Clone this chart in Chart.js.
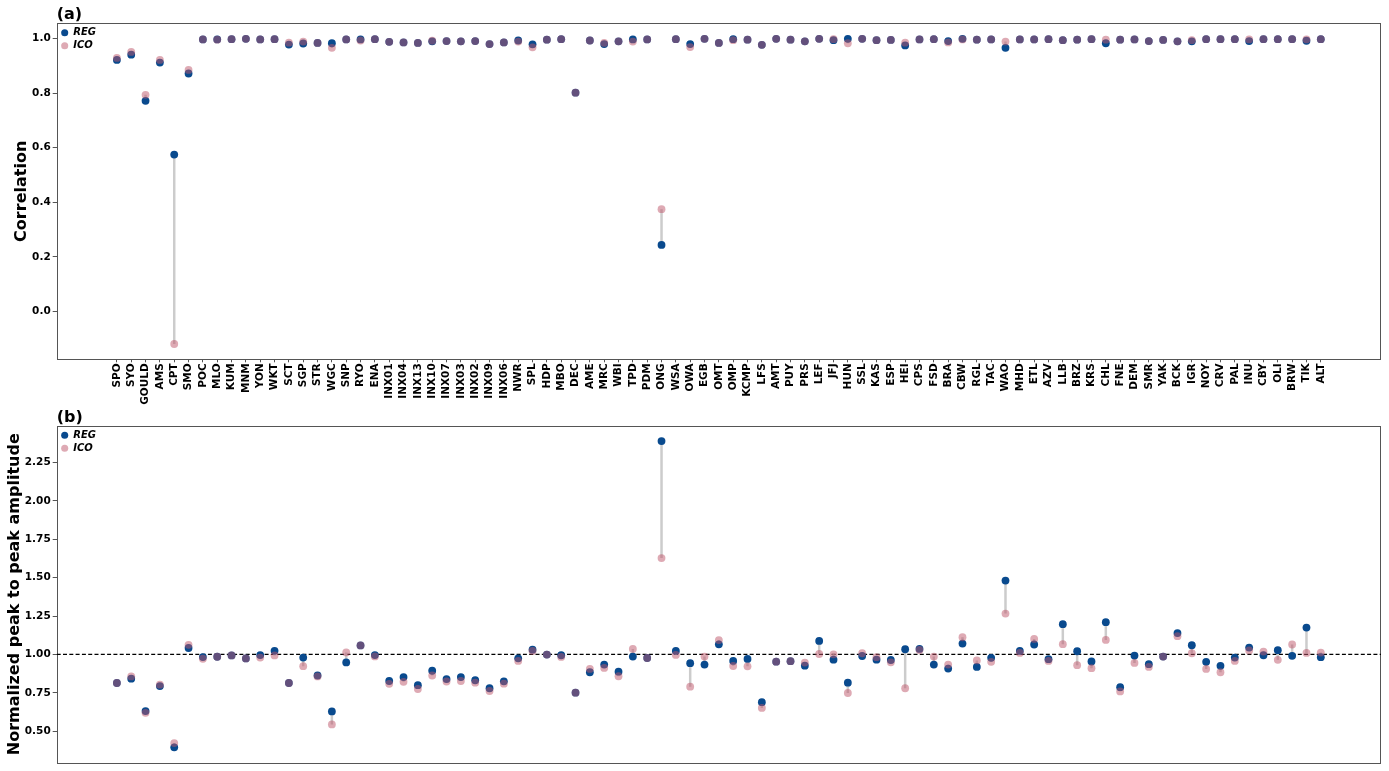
<!DOCTYPE html>
<html>
<head>
<meta charset="utf-8">
<title>Station correlation and normalized amplitude</title>
<script src="https://cdn.jsdelivr.net/npm/chart.js@4.4.1/dist/chart.umd.min.js"></script>
<style>
  html, body { margin: 0; padding: 0; background: #ffffff; }
  #wrap { position: relative; width: 1389px; height: 771px; overflow: hidden; }
  canvas { position: absolute; left: 0; }
  #panelA { top: 0; }
  #panelB { top: 400px; }
</style>
</head>
<body>
<div id="wrap">
  <canvas id="panelA" width="1389" height="410"></canvas>
  <canvas id="panelB" width="1389" height="371"></canvas>
</div>
<script>
// Station codes along the x axis
const stations = ['SPO','SYO','GOULD','AMS','CPT','SMO','POC','MLO','KUM','MNM','YON','WKT','SCT','SGP','STR','WGC','SNP','RYO','ENA','INX01','INX04','INX13','INX10','INX07','INX03','INX02','INX09','INX06','NWR','SPL','HDP','MBO','DEC','AME','MRC','WBI','TPD','PDM','ONG','WSA','OWA','EGB','OMT','OMP','KCMP','LFS','AMT','PUY','PRS','LEF','JFJ','HUN','SSL','KAS','ESP','HEI','CPS','FSD','BRA','CBW','RGL','TAC','WAO','MHD','ETL','AZV','LLB','BRZ','KRS','CHL','FNE','DEM','SMR','YAK','BCK','IGR','NOY','CRV','PAL','INU','CBY','OLI','BRW','TIK','ALT'];

// (a) correlation with observations
const corrREG = [0.922,0.941,0.772,0.912,0.575,0.872,0.997,0.997,0.998,0.999,0.997,0.998,0.978,0.982,0.984,0.983,0.997,0.997,0.998,0.988,0.986,0.984,0.990,0.991,0.990,0.991,0.980,0.986,0.993,0.979,0.996,0.998,0.802,0.993,0.980,0.990,0.997,0.997,0.244,0.998,0.980,0.999,0.984,0.998,0.996,0.977,0.999,0.996,0.990,0.999,0.994,0.999,0.999,0.994,0.995,0.975,0.997,0.998,0.991,0.999,0.996,0.997,0.966,0.997,0.997,0.998,0.994,0.996,0.998,0.983,0.996,0.997,0.991,0.995,0.990,0.990,0.998,0.998,0.998,0.991,0.998,0.998,0.998,0.992,0.998];
const corrICO = [0.929,0.951,0.794,0.922,-0.119,0.885,0.997,0.996,0.998,0.999,0.997,0.998,0.985,0.989,0.984,0.966,0.997,0.993,0.998,0.988,0.986,0.984,0.992,0.991,0.990,0.991,0.980,0.986,0.989,0.968,0.996,0.998,0.802,0.993,0.984,0.990,0.989,0.997,0.375,0.998,0.969,0.999,0.984,0.994,0.996,0.977,0.999,0.996,0.990,0.999,0.998,0.983,0.999,0.994,0.995,0.985,0.997,0.998,0.986,0.997,0.996,0.997,0.989,0.997,0.997,0.998,0.994,0.996,0.998,0.996,0.996,0.997,0.991,0.995,0.990,0.994,0.998,0.998,0.998,0.997,0.998,0.998,0.998,0.997,0.998];

// (b) normalized peak-to-peak amplitude
const ampREG = [0.814,0.842,0.631,0.794,0.395,1.042,0.983,0.985,0.994,0.974,0.996,1.024,0.814,0.980,0.863,0.629,0.948,1.059,0.996,0.827,0.853,0.800,0.894,0.840,0.853,0.832,0.780,0.825,0.975,1.031,0.999,0.995,0.751,0.884,0.934,0.888,0.986,0.977,2.390,1.023,0.943,0.934,1.066,0.958,0.971,0.689,0.953,0.956,0.927,1.088,0.966,0.816,0.990,0.966,0.964,1.034,1.036,0.934,0.908,1.071,0.919,0.978,1.481,1.023,1.065,0.969,1.197,1.021,0.954,1.210,0.787,0.993,0.937,0.986,1.139,1.060,0.952,0.926,0.980,1.045,0.995,1.028,0.991,1.175,0.982];
const ampICO = [0.814,0.857,0.620,0.803,0.423,1.063,0.972,0.985,0.994,0.974,0.980,0.994,0.814,0.924,0.857,0.544,1.013,1.059,0.987,0.809,0.822,0.775,0.863,0.824,0.827,0.816,0.762,0.810,0.958,1.023,0.999,0.984,0.751,0.906,0.912,0.858,1.036,0.977,1.628,0.997,0.790,0.986,1.094,0.925,0.923,0.652,0.953,0.956,0.947,1.003,1.001,0.749,1.008,0.982,0.949,0.780,1.029,0.986,0.934,1.112,0.961,0.952,1.266,1.010,1.101,0.958,1.067,0.930,0.911,1.095,0.759,0.945,0.919,0.986,1.119,1.008,0.906,0.884,0.958,1.026,1.019,0.965,1.065,1.010,1.012];

// Axis ticks and limits
const corrTicks = [0.0, 0.2, 0.4, 0.6, 0.8, 1.0];
const ampTicks = [0.50, 0.75, 1.00, 1.25, 1.50, 1.75, 2.00, 2.25];
const xLimits = [-4.2, 88.2];
const corrLimits = [-0.175, 1.056];
const ampLimits = [0.295, 2.49];
const ampReference = 1.0;

const FONT = 'DejaVu Sans';
const REG_COLOR = 'rgb(9,74,142)';
const ICO_COLOR = 'rgba(189,85,105,0.5)';
const LINK_COLOR = '#cccccc';
const AXIS_COLOR = '#555555';

// Panel tag "(a)" / "(b)" above the top-left corner, the plot frame,
// and the legend pinned inside the upper-left corner of the plot area
const panelDecor = {
  id: 'panelDecor',
  afterLayout(chart) {
    const lg = chart.legend;
    if (!lg) return;
    const a = chart.chartArea;
    lg.left = a.left + 1.5;
    lg.right = a.right;
    lg.top = a.top + 1.5;
    lg.bottom = a.bottom;
  },
  beforeDatasetsDraw(chart) {
    const {ctx, chartArea: a} = chart;
    ctx.save();
    ctx.strokeStyle = AXIS_COLOR;
    ctx.lineWidth = 1;
    ctx.strokeRect(Math.round(a.left) + 0.5, Math.round(a.top) + 0.5,
                   Math.round(a.right - a.left) - 1, Math.round(a.bottom - a.top));
    ctx.restore();
  },
  afterDraw(chart, args, opts) {
    const {ctx, chartArea: a} = chart;
    ctx.save();
    ctx.fillStyle = '#000';
    ctx.font = 'bold 16px "' + FONT + '"';
    ctx.textAlign = 'left';
    ctx.textBaseline = 'alphabetic';
    ctx.fillText(opts.text, a.left, a.top - 4);
    ctx.restore();
  }
};

function linkData(a, b) {
  const out = [];
  for (let i = 0; i < stations.length; i++) {
    out.push({x: i, y: a[i]}, {x: i, y: b[i]}, {x: i, y: null});
  }
  return out;
}
function pts(v) { return v.map((y, i) => ({x: i, y})); }

function buildPanel(canvasId, tag, title, titlePad, regVals, icoVals, yTicks, yLim, decimals, showLabels, padTop, xHeight, refLevel) {
  const datasets = [
    { type: 'line', label: '', data: linkData(regVals, icoVals), borderColor: LINK_COLOR,
      borderWidth: 2.5, pointRadius: 0, spanGaps: false, order: 2 },
    { type: 'scatter', label: 'REG', data: pts(regVals), backgroundColor: REG_COLOR,
      pointBackgroundColor: REG_COLOR, pointRadius: 3.9, pointBorderWidth: 0, pointStyle: 'circle', order: 1 },
    { type: 'scatter', label: 'ICO', data: pts(icoVals), backgroundColor: ICO_COLOR,
      pointBackgroundColor: ICO_COLOR, pointRadius: 3.9, pointBorderWidth: 0, pointStyle: 'circle', order: 0 }
  ];
  if (refLevel !== null) {
    datasets.push({ type: 'line', label: '', data: [{x: xLimits[0], y: refLevel}, {x: xLimits[1], y: refLevel}],
      borderColor: '#000', borderWidth: 1.2, borderDash: [4, 2.3], pointRadius: 0, order: 3 });
  }
  return new Chart(document.getElementById(canvasId), {
    type: 'scatter',
    data: { datasets },
    options: {
      responsive: false,
      animation: false,
      events: [],
      layout: { padding: { top: padTop, right: 8, bottom: 0, left: 0 } },
      plugins: {
        tooltip: { enabled: false },
        panelDecor: { text: tag },
        legend: {
          position: 'chartArea',
          align: 'start',
          labels: {
            usePointStyle: true,
            boxWidth: 7,
            boxHeight: 5,
            padding: 3,
            color: '#000',
            font: { family: FONT, size: 10, weight: 'bold', style: 'italic', lineHeight: 1.0 },
            filter: item => item.text !== '',
            sort: (p, q) => p.datasetIndex - q.datasetIndex
          }
        }
      },
      scales: {
        x: {
          type: 'linear',
          min: xLimits[0], max: xLimits[1],
          afterBuildTicks: s => { s.ticks = stations.map((_, i) => ({ value: i })); },
          afterFit: s => { s.height = xHeight; },
          border: { display: false },
          grid: { display: showLabels, drawOnChartArea: false, tickLength: 3, color: AXIS_COLOR },
          ticks: {
            display: showLabels,
            autoSkip: false,
            minRotation: 90, maxRotation: 90,
            padding: 1,
            color: '#000',
            font: { family: FONT, size: 10.5, weight: 'bold' },
            callback: v => stations[v]
          }
        },
        y: {
          type: 'linear',
          min: yLim[0], max: yLim[1],
          afterBuildTicks: s => { s.ticks = yTicks.map(v => ({ value: v })); },
          afterFit: s => { s.width = 56.7; },
          border: { display: false },
          grid: { drawOnChartArea: false, tickLength: 4, color: AXIS_COLOR },
          ticks: {
            padding: 2,
            color: '#000',
            font: { family: FONT, size: 10.5, weight: 'bold' },
            callback: v => Number(v).toFixed(decimals)
          },
          title: {
            display: true,
            text: title,
            color: '#000',
            padding: { top: titlePad, bottom: 0 },
            font: { family: FONT, size: 16, weight: 'bold' }
          }
        }
      }
    },
    plugins: [panelDecor]
  });
}

buildPanel('panelA', '(a)', 'Correlation', 12, corrREG, corrICO, corrTicks, corrLimits, 1, true, 23.3, 50.7, null);
buildPanel('panelB', '(b)', 'Normalized peak to peak amplitude', 5, ampREG, ampICO, ampTicks, ampLimits, 2, false, 25.7, 8, ampReference);
</script>
</body>
</html>
